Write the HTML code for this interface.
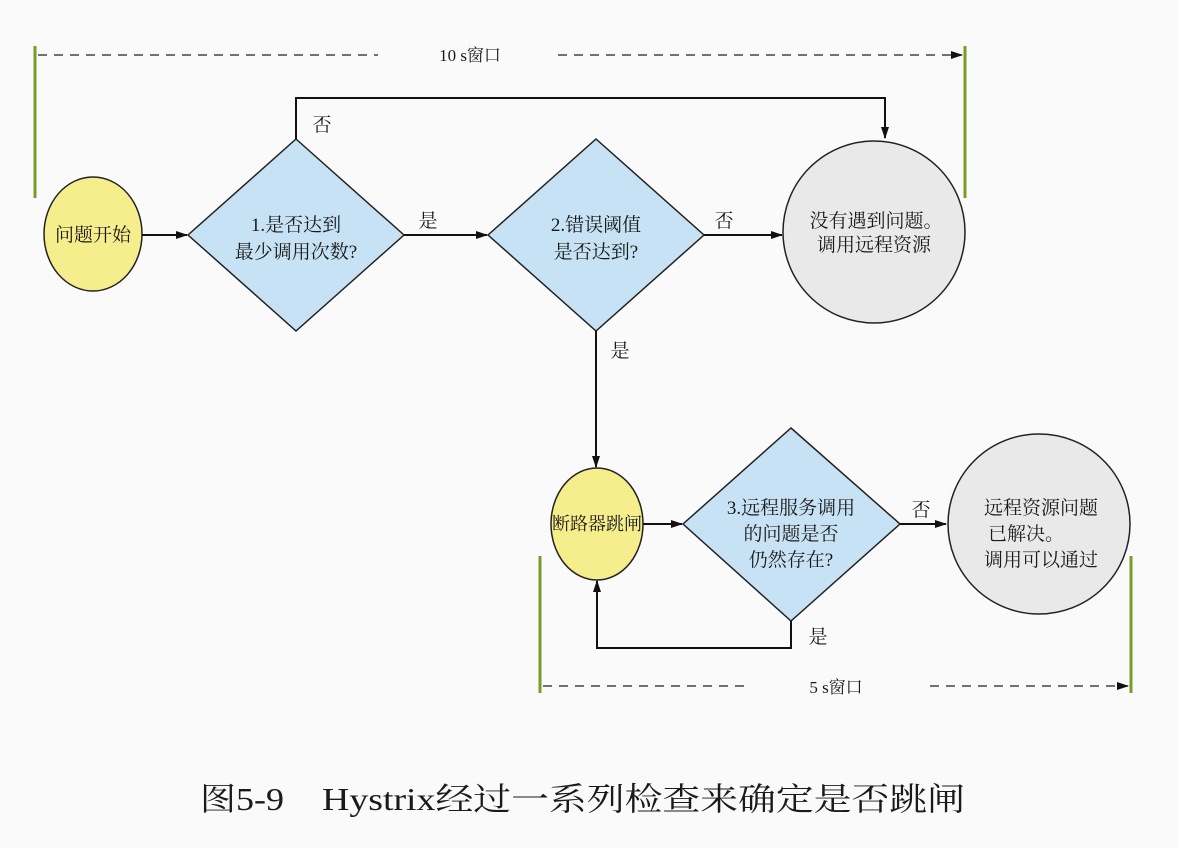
<!DOCTYPE html>
<html><head><meta charset="utf-8"><style>
html,body{margin:0;padding:0;background:#fafafa;}
svg{display:block;}
text{font-family:"Liberation Serif","Noto Serif CJK SC",serif;fill:#1a1a1a;}
</style></head><body>
<svg width="1178" height="848" viewBox="0 0 1178 848" xmlns="http://www.w3.org/2000/svg">
<defs>
<marker id="a" markerWidth="12" markerHeight="8" refX="11" refY="4" orient="auto" markerUnits="userSpaceOnUse">
<path d="M0,0 L12,4 L0,8 Z" fill="#111"/></marker>
</defs>
<rect width="1178" height="848" fill="#fafafa"/>
<line x1="35" y1="46" x2="35" y2="198" stroke="#7a9a2a" stroke-width="3"/>
<line x1="965" y1="46" x2="965" y2="198" stroke="#7a9a2a" stroke-width="3"/>
<line x1="38" y1="55" x2="378" y2="55" stroke="#444" stroke-width="1.5" stroke-dasharray="9,7"/>
<line x1="558" y1="55" x2="962" y2="55" stroke="#444" stroke-width="1.5" stroke-dasharray="9,7" marker-end="url(#a)"/>
<text x="470" y="61" font-size="17" text-anchor="middle">10 s窗口</text>
<ellipse cx="93" cy="234" rx="49" ry="57" fill="#f6ee8c" stroke="#222" stroke-width="1.5"/>
<text x="93" y="241" font-size="19" text-anchor="middle">问题开始</text>
<line x1="142" y1="235" x2="187" y2="235" stroke="#111" stroke-width="2" marker-end="url(#a)"/>
<polygon points="296,139 404,235 296,331 188,235" fill="#c6e2f4" stroke="#222" stroke-width="1.5"/>
<text x="296" y="231" font-size="19" text-anchor="middle">1.是否达到</text>
<text x="296" y="258" font-size="19" text-anchor="middle">最少调用次数?</text>
<polyline points="296,139 296,98 885,98 885,138" fill="none" stroke="#111" stroke-width="2" marker-end="url(#a)"/>
<text x="322" y="131" font-size="19" text-anchor="middle">否</text>
<text x="428" y="227" font-size="19" text-anchor="middle">是</text>
<line x1="404" y1="235" x2="487" y2="235" stroke="#111" stroke-width="2" marker-end="url(#a)"/>
<polygon points="596,139 704,235 596,331 488,235" fill="#c6e2f4" stroke="#222" stroke-width="1.5"/>
<text x="596" y="231" font-size="19" text-anchor="middle">2.错误阈值</text>
<text x="596" y="258" font-size="19" text-anchor="middle">是否达到?</text>
<text x="724" y="227" font-size="19" text-anchor="middle">否</text>
<line x1="704" y1="235" x2="782" y2="235" stroke="#111" stroke-width="2" marker-end="url(#a)"/>
<ellipse cx="874" cy="232" rx="91" ry="91" fill="#e9e9e9" stroke="#222" stroke-width="1.5"/>
<text x="876" y="227" font-size="19" text-anchor="middle">没有遇到问题。</text>
<text x="874" y="251" font-size="19" text-anchor="middle">调用远程资源</text>
<line x1="596" y1="331" x2="596" y2="467" stroke="#111" stroke-width="2" marker-end="url(#a)"/>
<text x="620" y="357" font-size="19" text-anchor="middle">是</text>
<ellipse cx="597" cy="524" rx="46" ry="56" fill="#f6ee8c" stroke="#222" stroke-width="1.5"/>
<text x="597" y="530" font-size="18" text-anchor="middle">断路器跳闸</text>
<line x1="643" y1="524" x2="682" y2="524" stroke="#111" stroke-width="2" marker-end="url(#a)"/>
<polygon points="791,428 900,524 791,621 683,524" fill="#c6e2f4" stroke="#222" stroke-width="1.5"/>
<text x="791" y="514" font-size="19" text-anchor="middle">3.远程服务调用</text>
<text x="791" y="540" font-size="19" text-anchor="middle">的问题是否</text>
<text x="791" y="566" font-size="19" text-anchor="middle">仍然存在?</text>
<polyline points="791,621 791,648 597,648 597,581" fill="none" stroke="#111" stroke-width="2" marker-end="url(#a)"/>
<text x="818" y="643" font-size="19" text-anchor="middle">是</text>
<text x="921" y="516" font-size="19" text-anchor="middle">否</text>
<line x1="900" y1="524" x2="946" y2="524" stroke="#111" stroke-width="2" marker-end="url(#a)"/>
<ellipse cx="1039" cy="524" rx="91" ry="90" fill="#e9e9e9" stroke="#222" stroke-width="1.5"/>
<text x="1041" y="514" font-size="19" text-anchor="middle">远程资源问题</text>
<text x="1026" y="540" font-size="19" text-anchor="middle">已解决。</text>
<text x="1041" y="566" font-size="19" text-anchor="middle">调用可以通过</text>
<line x1="540" y1="556" x2="540" y2="693" stroke="#7a9a2a" stroke-width="3"/>
<line x1="1131" y1="556" x2="1131" y2="693" stroke="#7a9a2a" stroke-width="3"/>
<line x1="543" y1="686" x2="748" y2="686" stroke="#444" stroke-width="1.5" stroke-dasharray="9,7"/>
<line x1="930" y1="686" x2="1128" y2="686" stroke="#444" stroke-width="1.5" stroke-dasharray="9,7" marker-end="url(#a)"/>
<text x="836" y="693" font-size="17" text-anchor="middle">5 s窗口</text>
<text x="200" y="810" font-size="32" textLength="84" lengthAdjust="spacingAndGlyphs">图5-9</text>
<text x="322" y="810" font-size="32" textLength="643" lengthAdjust="spacingAndGlyphs">Hystrix经过一系列检查来确定是否跳闸</text>
</svg>
</body></html>
